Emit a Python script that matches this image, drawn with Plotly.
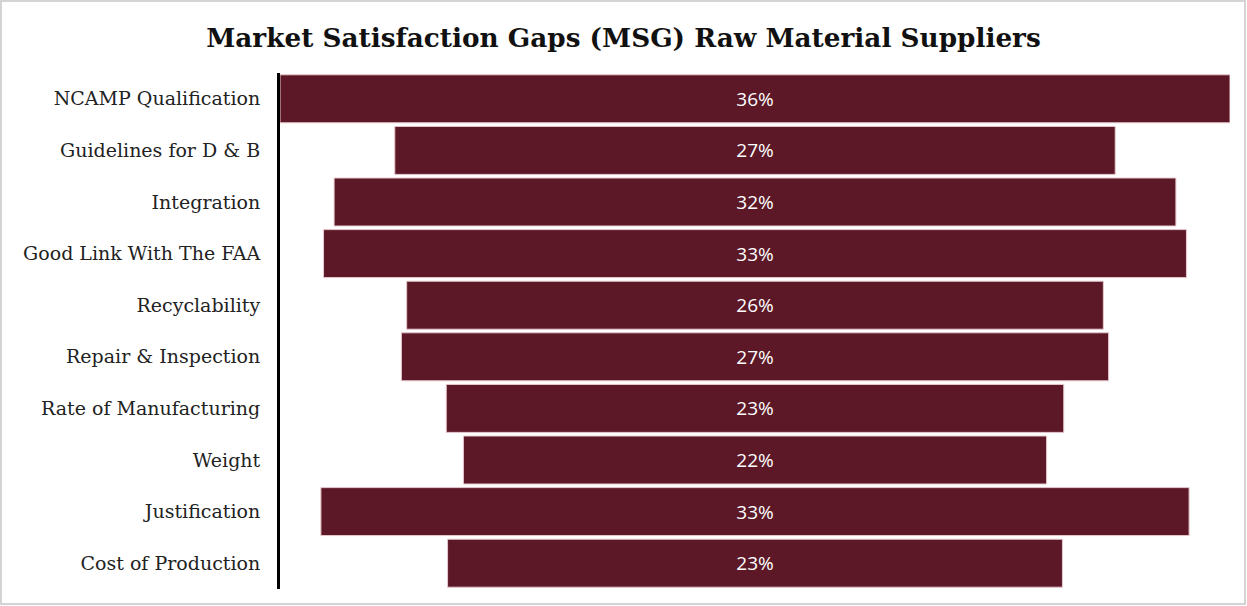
import plotly.graph_objects as go

categories = ["NCAMP Qualification", "Guidelines for D & B", "Integration",
              "Good Link With The FAA", "Recyclability", "Repair & Inspection",
              "Rate of Manufacturing", "Weight", "Justification", "Cost of Production"]
values = [36.0, 27.3, 31.9, 32.7, 26.4, 26.8, 23.4, 22.1, 32.9, 23.3]
labels = [f"{round(v)}%" for v in values]

W, H = 1247, 606
ML, MR, MT, MB = 280, 17, 73, 17
pw = W - ML - MR
ph = H - MT - MB

fig = go.Figure(go.Funnel(
    y=categories,
    x=values,
    text=labels,
    texttemplate="%{text}",
    textposition="inside",
    textfont=dict(family="Open Sans", size=19, color="white"),
    marker=dict(color="#5c1827", line=dict(color="#e6c9cd", width=1)),
    connector=dict(visible=False),
    hoverinfo="y+text",
))

fig.update_layout(
    width=W, height=H,
    margin=dict(l=ML, r=MR, t=MT, b=MB),
    paper_bgcolor="white", plot_bgcolor="white",
    title=dict(text="<b>Market Satisfaction Gaps (MSG) Raw Material Suppliers</b>",
               x=0.5, xanchor="center", y=1 - 38 / H, yanchor="middle",
               font=dict(family="DejaVu Serif", size=26.3, color="#111")),
    funnelgap=0.07,
    showlegend=False,
    xaxis=dict(visible=False, range=[-18, 18], fixedrange=True),
    yaxis=dict(showline=True, linecolor="black", linewidth=3, showgrid=False,
               ticks="", ticklabelstandoff=13, autorange="reversed",
               tickfont=dict(family="DejaVu Serif", size=19, color="#222")),
    shapes=[dict(type="rect", xref="paper", yref="paper",
                 x0=-(ML - 1) / pw, x1=1 + (MR - 2) / pw,
                 y0=-(MB - 2) / ph, y1=1 + (MT - 1) / ph,
                 line=dict(color="#d4d4d4", width=2), fillcolor="rgba(0,0,0,0)",
                 layer="below")],
)

fig.write_html("out.html", config={"displayModeBar": False},
               post_script="document.body.style.margin='0';")
